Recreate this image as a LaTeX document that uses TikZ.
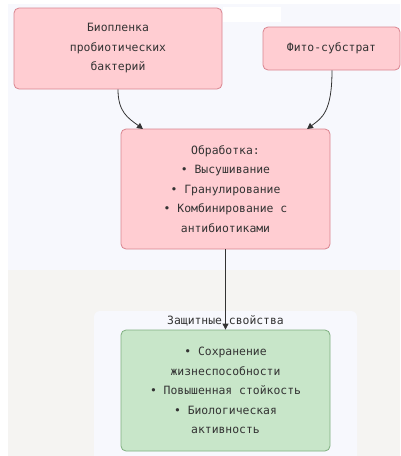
\documentclass[tikz,border=0pt]{standalone}
\usepackage{fontspec}
\setmonofont{DejaVu Sans Mono}
\usetikzlibrary{arrows.meta}
\definecolor{upbg}{HTML}{F7F8FD}
\definecolor{lowbg}{HTML}{F5F4F2}
\definecolor{pinkfill}{HTML}{FFCDD2}
\definecolor{pinkdraw}{HTML}{D9848F}
\definecolor{greenfill}{HTML}{C8E6C9}
\definecolor{greendraw}{HTML}{7FAF80}
\definecolor{txt}{HTML}{333333}
\definecolor{edge}{HTML}{333333}
\tikzset{
  box/.style={rounded corners=5pt, line width=0.8pt, align=center, inner sep=0pt,
    text=txt, font=\ttfamily\fontsize{11.4}{19.5}\selectfont},
  pinkbox/.style={box, fill=pinkfill, draw=pinkdraw},
  greenbox/.style={box, fill=greenfill, draw=greendraw},
  conn/.style={draw=edge, line width=0.8pt, -{Triangle[length=6pt,width=6pt]}},
}
\begin{document}
\begin{tikzpicture}[x=1pt,y=-1pt]
\useasboundingbox (0,0) rectangle (400,456);
\fill[white] (0,0) rectangle (400,456);
\fill[upbg] (8,4) rectangle (400,270);
\fill[lowbg] (8,270) rectangle (400,456);
\fill[white] (223,7) rectangle (281,22);
\fill[upbg, rounded corners=6pt] (94,311) rectangle (357,470);
\node[font=\ttfamily\fontsize{11.4}{13}\selectfont, text=txt] (cl) at (225.5,321) {Защитные свойства};

\node[pinkbox, minimum width=208pt, minimum height=81pt] (bio) at (118,48.5)
  {Биопленка\\пробиотических\\бактерий};
\node[pinkbox, minimum width=137pt, minimum height=43pt] (phy) at (331.5,48.5)
  {Фито-субстрат};
\node[pinkbox, minimum width=209pt, minimum height=120pt] (proc) at (225.5,189)
  {Обработка:\\• Высушивание\\• Гранулирование\\• Комбинирование с\\антибиотиками};
\node[greenbox, minimum width=209pt, minimum height=121pt] (prot) at (225.5,390.5)
  {• Сохранение\\жизнеспособности\\• Повышенная стойкость\\• Биологическая\\активность};

\coordinate (p1) at (143,129);
\coordinate (p2) at (307,129);
\draw[conn] (bio.south -| 118,0) .. controls (118,112) and (128,118) .. (p1);
\draw[conn] (phy.south -| 332,0) .. controls (332,112) and (322,118) .. (p2);
\draw[conn] (proc.south) -- (prot.north);
\end{tikzpicture}
\end{document}
